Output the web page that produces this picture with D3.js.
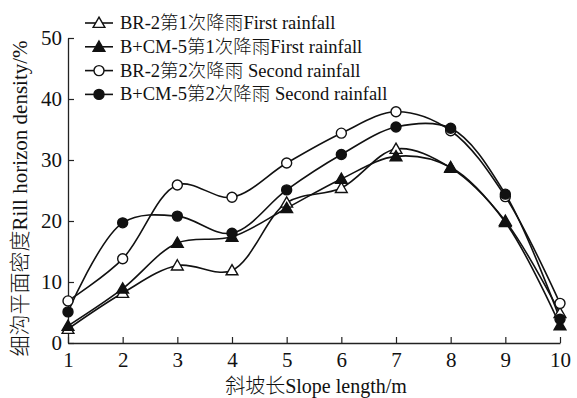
<!DOCTYPE html>
<html>
<head>
<meta charset="utf-8">
<script src="https://cdn.jsdelivr.net/npm/d3@7"></script>
<style>
  body { margin: 0; background: #fff; }
  svg text { font-family: "Liberation Serif", "Noto Sans CJK SC", serif; fill: #111; }
  tspan.latin { font-family: "Liberation Serif", serif; }
  tspan.cjk { font-family: "Noto Sans CJK SC", sans-serif; font-weight: 300; }
</style>
</head>
<body>
<svg id="chart" width="577" height="398"></svg>
<script>
// Slope length positions (m)
const slopeLength = [1, 2, 3, 4, 5, 6, 7, 8, 9, 10];

// Rill horizon density (%) per treatment and rainfall event
const br2First  = [2.3, 8.2, 12.7, 11.9, 23.0, 25.4, 31.8, 28.7, 20.0, 4.9];
const bcmFirst  = [2.8, 8.9, 16.4, 17.4, 22.1, 26.9, 30.6, 28.8, 19.8, 2.9];
const br2Second = [6.9, 13.8, 25.9, 23.9, 29.5, 34.4, 37.9, 34.8, 24.0, 6.5];
const bcmSecond = [5.1, 19.7, 20.8, 18.0, 25.1, 30.9, 35.4, 35.2, 24.4, 3.9];

const seriesNames = [
  ["BR-2", "第", "1", "次降雨", "First rainfall"],
  ["B+CM-5", "第", "1", "次降雨", "First rainfall"],
  ["BR-2", "第", "2", "次降雨", " Second rainfall"],
  ["B+CM-5", "第", "2", "次降雨", " Second rainfall"]
];
const seriesMarkers = ["triangleOpen", "triangleFilled", "circleOpen", "circleFilled"];

const yTicks = [0, 10, 20, 30, 40, 50];

const series = [br2First, bcmFirst, br2Second, bcmSecond].map((vals, i) => ({
  name: seriesNames[i],
  marker: seriesMarkers[i],
  values: vals.map((v, j) => ({ x: slopeLength[j], y: v }))
}));

const svg = d3.select("#chart");
const margin = { left: 68, right: 17, top: 38, bottom: 55 };
const W = 577, H = 398;

const x = d3.scaleLinear().domain([1, 10]).range([margin.left, W - margin.right]);
const y = d3.scaleLinear().domain([0, 50]).range([H - margin.bottom, margin.top]);

// Axes with inward ticks
const xAxis = svg.append("g")
  .attr("transform", `translate(0,${y(0)})`)
  .call(d3.axisBottom(x).tickValues(slopeLength).tickSizeInner(-6).tickSizeOuter(0).tickPadding(9));
const yAxis = svg.append("g")
  .attr("transform", `translate(${x(1)},0)`)
  .call(d3.axisLeft(y).tickValues(yTicks).tickSizeInner(-6).tickSizeOuter(0).tickPadding(6));

[xAxis, yAxis].forEach(g => {
  g.selectAll("path.domain").attr("stroke", "#222").attr("stroke-width", 1.3);
  g.selectAll(".tick line").attr("stroke", "#222").attr("stroke-width", 1.2);
  g.selectAll(".tick text").attr("font-size", 21).attr("font-family", "Liberation Serif, serif").attr("fill", "#111");
});

// Text made of CJK parts and Latin parts
function mixedText(sel, parts) {
  parts.forEach(p => {
    sel.append("tspan").attr("class", /[\u4e00-\u9fff]/.test(p) ? "cjk" : "latin").text(p);
  });
}

// Axis titles
mixedText(svg.append("text")
  .attr("x", (x(1) + x(10)) / 2 + 2)
  .attr("y", 393)
  .attr("text-anchor", "middle")
  .attr("font-size", 20), ["斜坡长", "Slope length/m"]);

mixedText(svg.append("text")
  .attr("transform", `translate(27,${(y(0) + y(50)) / 2 + 8}) rotate(-90)`)
  .attr("text-anchor", "middle")
  .attr("font-size", 21), ["细沟平面密度", "Rill horizon density/%"]);

// Smooth curves through the points
const line = d3.line()
  .x(d => x(d.x))
  .y(d => y(d.y))
  .curve(d3.curveCatmullRom.alpha(0.5));

const triPath = d3.symbol().type(d3.symbolTriangle).size(60)();

function drawMarker(g, type) {
  if (type.startsWith("triangle")) {
    g.append("path")
      .attr("d", triPath)
      .attr("transform", "translate(0,1)")
      .attr("fill", type === "triangleFilled" ? "#111" : "#fff")
      .attr("stroke", "#111")
      .attr("stroke-width", 1.4);
  } else {
    g.append("circle")
      .attr("r", 5)
      .attr("fill", type === "circleFilled" ? "#111" : "#fff")
      .attr("stroke", "#111")
      .attr("stroke-width", 1.4);
  }
}

series.forEach(s => {
  svg.append("path")
    .datum(s.values)
    .attr("fill", "none")
    .attr("stroke", "#111")
    .attr("stroke-width", 1.6)
    .attr("d", line);
});

series.forEach(s => {
  s.values.forEach(d => {
    const g = svg.append("g").attr("transform", `translate(${x(d.x)},${y(d.y)})`);
    drawMarker(g, s.marker);
  });
});

// Legend
const legend = svg.append("g").attr("transform", "translate(85,23)");
series.forEach((s, i) => {
  const row = legend.append("g").attr("transform", `translate(0,${i * 23.8})`);
  row.append("line").attr("x1", 0).attr("x2", 28).attr("y1", 0).attr("y2", 0)
    .attr("stroke", "#111").attr("stroke-width", 1.6);
  drawMarker(row.append("g").attr("transform", "translate(14,0)"), s.marker);
  mixedText(row.append("text")
    .attr("x", 35)
    .attr("y", 6)
    .attr("font-size", 18.5), s.name);
});
</script>
</body>
</html>
